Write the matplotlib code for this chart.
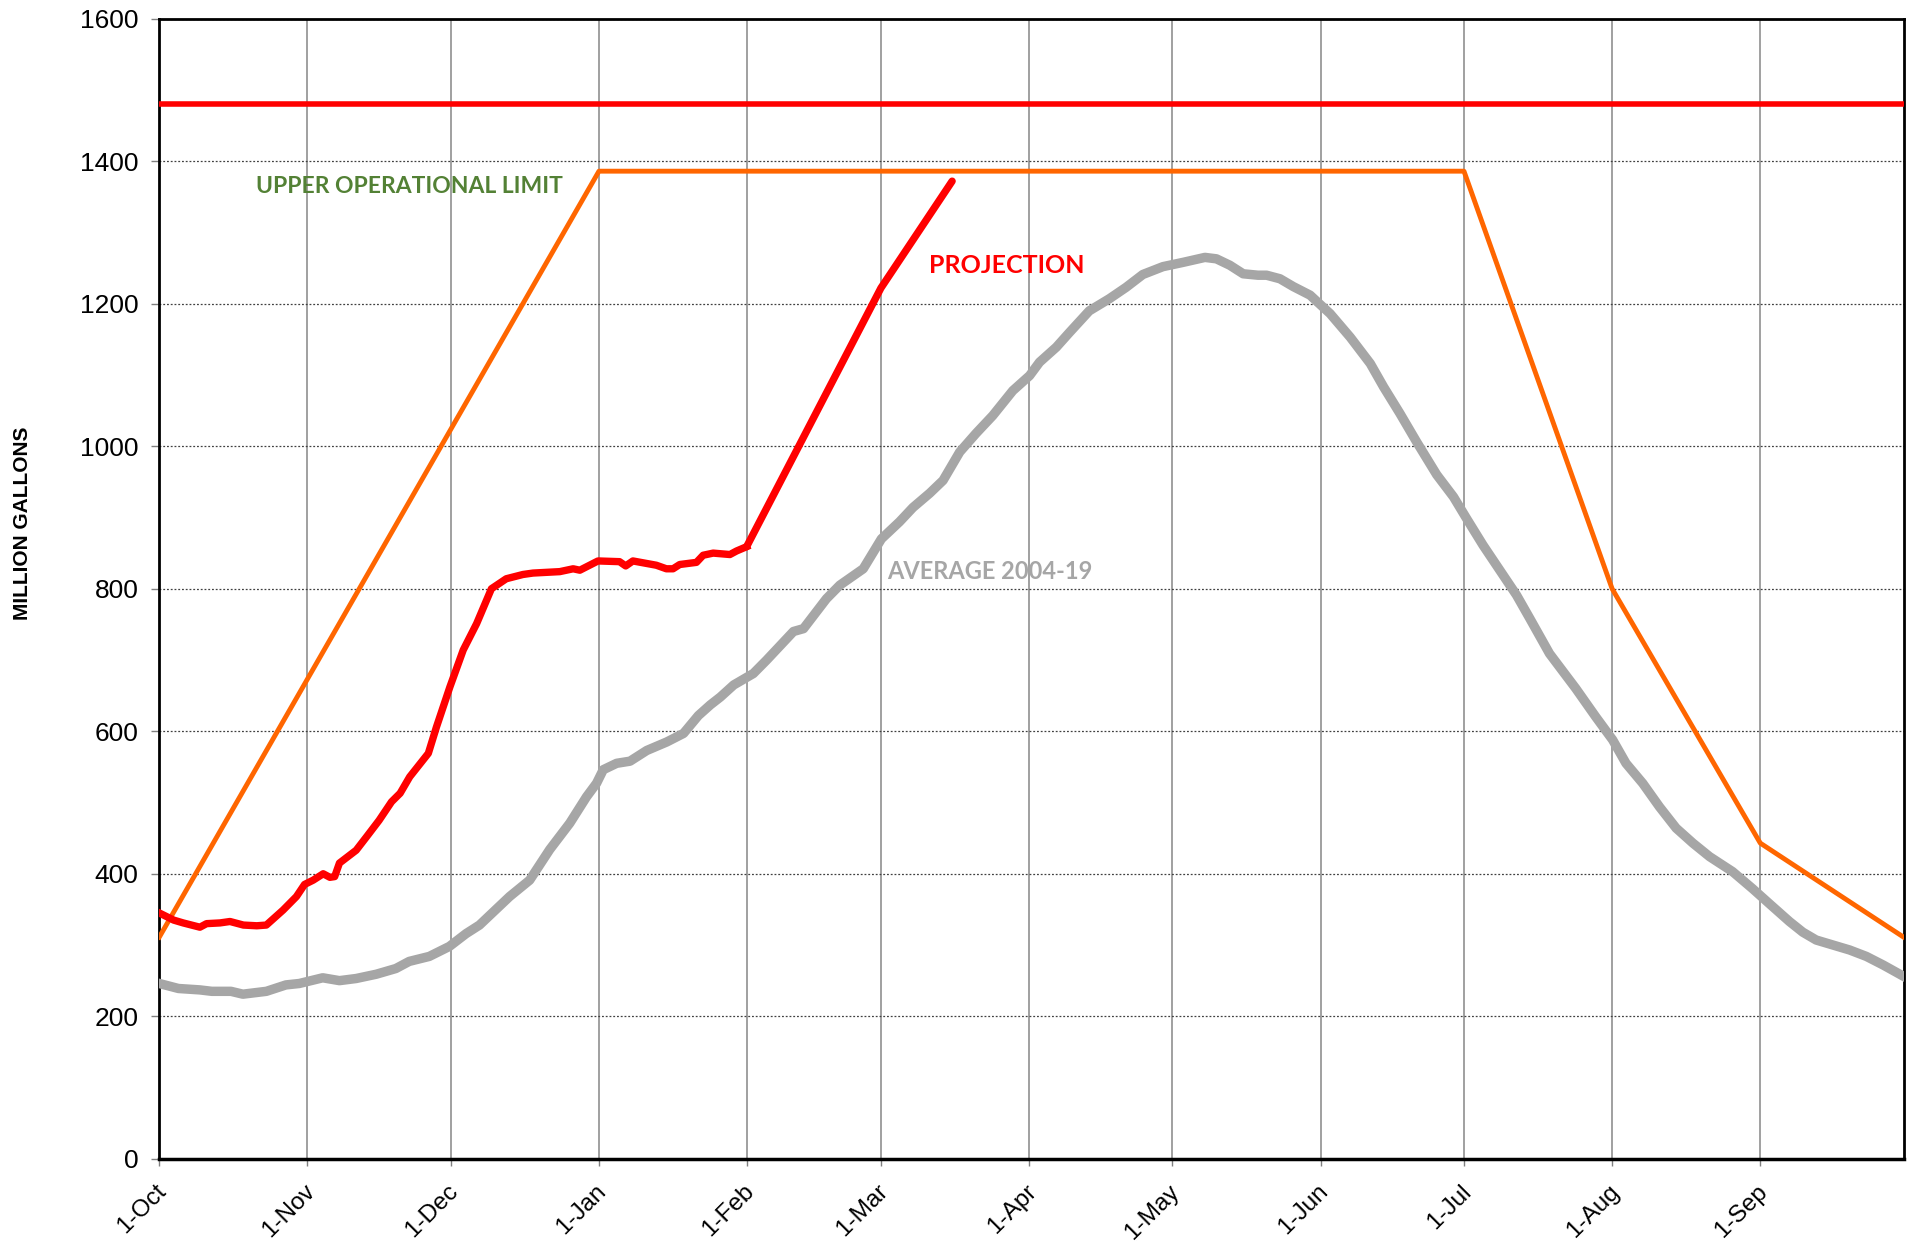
import matplotlib
matplotlib.use('Agg')
import matplotlib.pyplot as plt
import matplotlib.transforms as mtransforms
import numpy as np


########## Data (day 0 = 1-Oct, day 365 = 30-Sep)
month_days = [0, 31, 61, 92, 123, 151, 182, 212, 243, 273, 304, 335]
month_labels = ['1-Oct', '1-Nov', '1-Dec', '1-Jan', '1-Feb', '1-Mar',
                '1-Apr', '1-May', '1-Jun', '1-Jul', '1-Aug', '1-Sep']

y_ticks = [0, 200, 400, 600, 800, 1000, 1200, 1400, 1600]

max_capacity = 1480

limit_days = [0, 92, 273, 304, 335, 365]
limit_vals = [311, 1386, 1386, 800, 443, 311]

actual_days = [0, 3, 5, 8.5, 9.9, 12.7, 14.8, 17.6, 20.4, 22.4, 25.9, 28.7, 30.4,
               32.2, 34.3, 35.7, 36.7, 37.7, 41.2, 43.5, 46, 48.6, 50.4, 52.4, 56.3,
               58, 60.8, 63.6, 66.4, 69.5, 72.6, 76.1, 78.2, 83.8, 86.6, 88, 91.8,
               96.3, 97.6, 99.1, 104, 106.1, 107.5, 108.9, 112.4, 113.8, 115.9,
               119.4, 120.8, 122.9]
actual_vals = [345, 335, 331, 325, 330, 331, 333, 328, 327, 328, 349, 368, 385,
               391, 400, 395, 396, 415, 433, 453, 475, 501, 513, 536, 569,
               606, 662, 714, 751, 800, 814, 820, 822, 824, 828, 826, 839,
               838, 832, 839, 833, 828, 828, 834, 837, 847, 850,
               848, 853, 859]

proj_days = [122.9, 151, 165.9]
proj_vals = [859, 1222, 1372]

avg_days = [0, 4, 8.5, 11, 15, 17.5, 22.4, 26.5, 29.3, 34.2, 37.7, 41.2, 45.4,
            49.5, 52.3, 56.5, 60.7, 64.2, 67, 73.3, 77.5, 81.7, 85.9, 89.4, 91.5,
            92.9, 95.7, 98.5, 102, 106.2, 109.7, 112.8, 115.3, 117.4, 120.2,
            124.3, 127.1, 132.7, 134.8, 138, 139.6, 142.4, 147.3, 151.1, 154.9,
            157.7, 161.2, 164, 167.5, 170.9, 174.4, 178.6, 182.1, 184.2, 187.7,
            190.5, 194.6, 198.8, 202.3, 205.8, 210, 214.2, 218.8, 221.2, 224,
            226.8, 229.9, 231.7, 234.5, 237.3, 240.8, 245, 249.2, 253.4, 256.2,
            259.6, 263.1, 267.3, 270.8, 273.5, 277, 280.5, 284, 286.8, 290.9,
            296.4, 300.6, 304.1, 306.9, 310.4, 313.9, 317.4, 320.9, 324.4, 329.2,
            333.4, 336.9, 341.1, 343.9, 346.7, 350.2, 353.7, 357.2, 360.7, 365]
avg_vals = [246, 239, 237, 235, 235, 231, 235, 244, 246, 254, 250, 253, 259,
            267, 277, 284, 298, 316, 328, 368, 391, 434, 471, 508, 527,
            546, 555, 558, 573, 585, 597, 622, 637, 648, 665,
            681, 700, 740, 744, 772, 786, 805, 828, 870, 894,
            914, 934, 952, 992, 1018, 1043, 1078, 1099, 1118, 1139,
            1160, 1190, 1207, 1223, 1241, 1252, 1258, 1265, 1263, 1254,
            1242, 1240, 1240, 1235, 1224, 1212, 1186, 1153, 1116, 1083,
            1046, 1006, 960, 929, 899, 861, 826, 791, 758, 709,
            660, 620, 588, 555, 527, 494, 464, 443, 424, 403,
            379, 358, 333, 318, 307, 300, 293, 284, 272, 256]


########## Figure
plt.rcParams['font.family'] = ['Liberation Sans', 'DejaVu Sans']

fig = plt.figure(figsize=(19.19, 12.46), dpi=100)
ax = fig.add_axes([0.083, 0.070, 0.909, 0.915])

ax.plot(avg_days, avg_vals, color='#A6A6A6', lw=6.8, solid_joinstyle='round', zorder=3)
ax.plot(limit_days, limit_vals, color='#FF6600', lw=3.5, zorder=4)
ax.axhline(max_capacity, color='#FF0000', lw=4, zorder=4)
ax.plot(actual_days, actual_vals, color='#FF0000', lw=5.3, solid_joinstyle='round', zorder=5)
ax.plot(proj_days, proj_vals, color='#FF0000', lw=5.3, solid_capstyle='round', zorder=5)

ax.text(20.2, 1365, 'UPPER OPERATIONAL LIMIT', color='#538135', fontsize=16.5,
        fontweight='bold', family='Lato', va='center', ha='left', zorder=6)
ax.text(161.1, 1254, 'PROJECTION', color='#FF0000', fontsize=18,
        fontweight='bold', family='Lato', va='center', ha='left', zorder=6)
ax.text(152.2, 824, 'AVERAGE 2004-19', color='#A6A6A6', fontsize=17,
        fontweight='bold', family='Lato', va='center', ha='left', zorder=6)

ax.set_xlim(0, 365)
ax.set_ylim(0, 1600)
ax.set_xticks(month_days)
ax.set_xticklabels(month_labels, rotation=45, ha='right', va='baseline',
                   rotation_mode='anchor', fontsize=17.5)
ax.set_yticks(y_ticks)
ax.set_yticklabels([str(v) for v in y_ticks], fontsize=19)
ax.tick_params(axis='x', direction='out', length=5, width=1, color='#808080', pad=19.3)
ax.tick_params(axis='y', direction='out', length=5.5, width=1, color='#808080', pad=9.5)

# nudge the rotated month labels to the right of their ticks, like the original
shift = mtransforms.ScaledTranslation(0.08, 0, fig.dpi_scale_trans)
for lab in ax.get_xticklabels():
    lab.set_transform(lab.get_transform() + shift)

ax.grid(axis='x', color='#999999', lw=1.3, ls='-', zorder=1)
ax.grid(axis='y', color='#404040', lw=0.9, ls=(0, (1.5, 1.5)), zorder=1)

for side in ['left', 'right', 'top']:
    ax.spines[side].set_linewidth(2)
ax.spines['bottom'].set_linewidth(2.5)

fig.text(0.0115, 0.58, 'MILLION GALLONS', rotation=90, fontsize=15,
         fontweight='bold', va='center', ha='center')

plt.savefig('out.png')
plt.close()
